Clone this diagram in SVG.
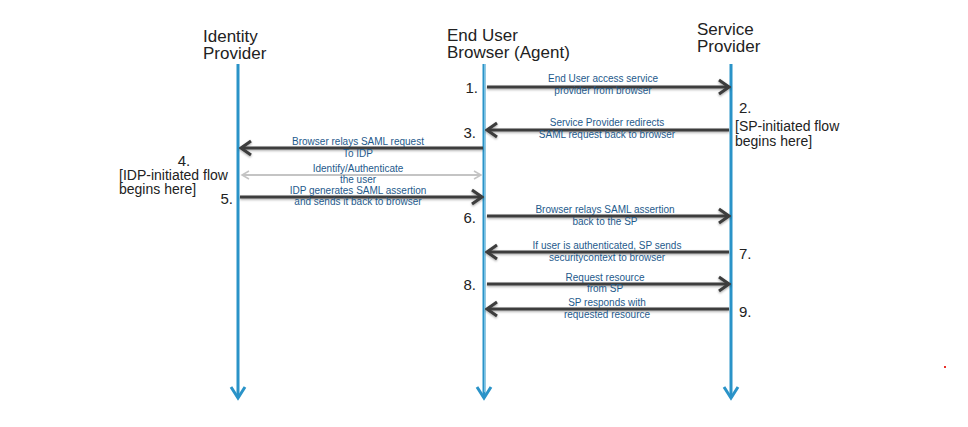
<svg xmlns="http://www.w3.org/2000/svg" width="968" height="427" viewBox="0 0 968 427">
<defs>
<style>
.hdr{font-family:"Liberation Sans",Arial,sans-serif;font-size:17px;fill:#222}
.num{font-family:"Liberation Sans",Arial,sans-serif;font-size:15px;fill:#222}
.note{font-family:"Liberation Sans",Arial,sans-serif;font-size:14px;fill:#222}
.lbl{font-family:"Liberation Sans",Arial,sans-serif;font-size:10px;fill:#1e5a8c;text-anchor:middle}
.life{stroke:#2a93c8;stroke-width:3;fill:none}
.msg{stroke:#3c3c3c;stroke-width:3;fill:none;filter:url(#sh)}
.gray{stroke:#c4c4c4;stroke-width:2;fill:none}
</style>
<filter id="sh" filterUnits="userSpaceOnUse" x="0" y="0" width="968" height="427">
<feDropShadow dx="0" dy="1.2" stdDeviation="0.8" flood-color="#000" flood-opacity="0.35"/>
</filter>
<marker id="ah" markerWidth="14" markerHeight="18" refX="12" refY="9" orient="auto" markerUnits="userSpaceOnUse">
<path d="M2,2 L12,9 L2,16" fill="none" stroke="#3c3c3c" stroke-width="3"/>
</marker>
<marker id="ag" markerWidth="10" markerHeight="12" refX="8" refY="6" orient="auto-start-reverse" markerUnits="userSpaceOnUse">
<path d="M1,2 L8,6 L1,10" fill="none" stroke="#c4c4c4" stroke-width="1.5"/>
</marker>
</defs>
<rect width="968" height="427" fill="#fff"/>

<g id="idp">
<text class="hdr" x="203" y="42">Identity</text>
<text class="hdr" x="203" y="59">Provider</text>
<line class="life" x1="238" y1="64" x2="238" y2="398"/>
<path class="life" d="M231,387 L238,398 L245,387"/>
</g>
<g id="browser">
<text class="hdr" x="447" y="41">End User</text>
<text class="hdr" x="447" y="58">Browser (Agent)</text>
<line class="life" x1="484" y1="64" x2="484" y2="398"/>
<line x1="484.5" y1="64" x2="484.5" y2="392" stroke="#8ccbe8" stroke-width="0.8"/>
<path class="life" d="M477,387 L484,398 L491,387"/>
</g>
<g id="sp">
<text class="hdr" x="697" y="35">Service</text>
<text class="hdr" x="697" y="52">Provider</text>
<line class="life" x1="731" y1="64" x2="731" y2="398"/>
<path class="life" d="M724,387 L731,398 L738,387"/>
</g>

<g id="connectors">
<line class="msg" x1="487" y1="87" x2="729" y2="87" marker-end="url(#ah)"/>
<line class="msg" x1="729" y1="130" x2="487" y2="130" marker-end="url(#ah)"/>
<line class="msg" x1="483" y1="148" x2="241" y2="148" marker-end="url(#ah)"/>
<line class="gray" x1="242" y1="175" x2="481" y2="175" marker-start="url(#ag)" marker-end="url(#ag)"/>
<line class="msg" x1="240" y1="197" x2="482" y2="197" marker-end="url(#ah)"/>
<line class="msg" x1="487" y1="216" x2="729" y2="216" marker-end="url(#ah)"/>
<line class="msg" x1="729" y1="252" x2="487" y2="252" marker-end="url(#ah)"/>
<line class="msg" x1="487" y1="284" x2="729" y2="284" marker-end="url(#ah)"/>
<line class="msg" x1="729" y1="309" x2="487" y2="309" marker-end="url(#ah)"/>
</g>

<g id="labels">
<text class="lbl" x="603" y="82">End User access service</text>
<text class="lbl" x="603" y="94">provider from browser</text>
<text class="lbl" x="607" y="126">Service Provider redirects</text>
<text class="lbl" x="607" y="138">SAML request back to browser</text>
<text class="lbl" x="358" y="145">Browser relays SAML request</text>
<text class="lbl" x="358" y="157">To IDP</text>
<text class="lbl" x="358" y="172">Identify/Authenticate</text>
<text class="lbl" x="358" y="183">the user</text>
<text class="lbl" x="358" y="194">IDP generates SAML assertion</text>
<text class="lbl" x="358" y="205">and sends it back to browser</text>
<text class="lbl" x="605" y="213">Browser relays SAML assertion</text>
<text class="lbl" x="605" y="225">back to the SP</text>
<text class="lbl" x="607" y="249">If user is authenticated, SP sends</text>
<text class="lbl" x="607" y="261">securitycontext to browser</text>
<text class="lbl" x="605" y="281">Request resource</text>
<text class="lbl" x="605" y="292">from SP</text>
<text class="lbl" x="607" y="306">SP responds with</text>
<text class="lbl" x="607" y="318">requested resource</text>
</g>

<g id="steps">
<text class="num" x="478" y="93" text-anchor="end">1.</text>
<text class="num" x="739" y="113">2.</text>
<text class="note" x="735" y="131">[SP-initiated flow</text>
<text class="note" x="735" y="146">begins here]</text>
<text class="num" x="476" y="138" text-anchor="end">3.</text>
<text class="num" x="184" y="166" text-anchor="middle">4.</text>
<text class="note" x="119" y="180">[IDP-initiated flow</text>
<text class="note" x="119" y="194">begins here]</text>
<text class="num" x="233" y="204" text-anchor="end">5.</text>
<text class="num" x="476" y="223" text-anchor="end">6.</text>
<text class="num" x="739" y="259">7.</text>
<text class="num" x="476" y="290" text-anchor="end">8.</text>
<text class="num" x="739" y="317">9.</text>
</g>
<rect x="944" y="366" width="2" height="2" fill="#e8302a"/>
</svg>
